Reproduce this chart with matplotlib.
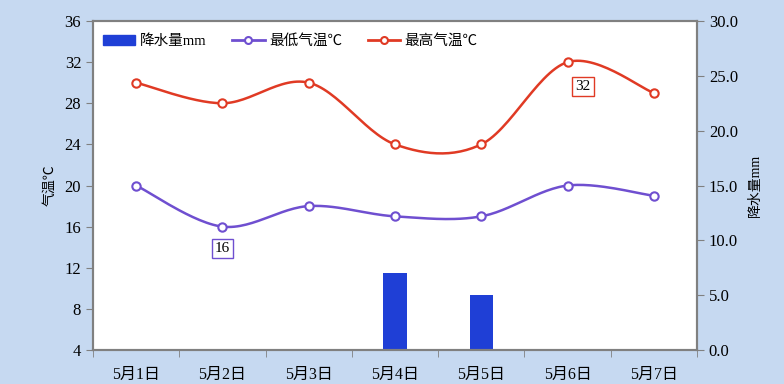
import matplotlib
matplotlib.use("Agg")
import matplotlib.pyplot as plt
import numpy as np

plt.rcParams['font.family'] = ['Liberation Serif', 'Noto Sans CJK SC', 'DejaVu Sans']

days = ['5月1日', '5月2日', '5月3日', '5月4日', '5月5日', '5月6日', '5月7日']
rain = [0, 0, 0, 7.0, 5.0, 0, 0]
t_min = [20, 16, 18, 17, 17, 20, 19]
t_max = [30, 28, 30, 24, 24, 32, 29]

bg = '#c6d9f1'
c_rain = '#1f3fd6'
c_min = '#6f4fd0'
c_max = '#e03a24'
grey = '#808080'


def smooth(x, y, n=30):
    # Catmull-Rom style bezier, like spreadsheet smoothed lines
    x = np.asarray(x, float)
    y = np.asarray(y, float)
    px = np.concatenate([[x[0]], x, [x[-1]]])
    py = np.concatenate([[y[0]], y, [y[-1]]])
    xs, ys = [], []
    t = np.linspace(0, 1, n)
    for i in range(1, len(px) - 2):
        p0 = np.array([px[i], py[i]])
        p3 = np.array([px[i + 1], py[i + 1]])
        p1 = p0 + (np.array([px[i + 1], py[i + 1]]) - np.array([px[i - 1], py[i - 1]])) / 6
        p2 = p3 - (np.array([px[i + 2], py[i + 2]]) - np.array([px[i], py[i]])) / 6
        b = ((1 - t) ** 3)[:, None] * p0 + (3 * (1 - t) ** 2 * t)[:, None] * p1 \
            + (3 * (1 - t) * t ** 2)[:, None] * p2 + (t ** 3)[:, None] * p3
        xs.append(b[:, 0])
        ys.append(b[:, 1])
    return np.concatenate(xs), np.concatenate(ys)


fig = plt.figure(figsize=(7.84, 3.84), dpi=100, facecolor=bg)
ax = fig.add_axes([93 / 784, 34 / 384, 604 / 784, 329 / 384])
ax2 = ax.twinx()

x = np.arange(len(days))

ax2.bar(x, rain, width=0.27, color=c_rain, zorder=1, label='降水量mm')

sx, sy = smooth(x, t_min)
ax.plot(sx, sy, color=c_min, lw=1.8, zorder=3)
ax.plot(x, t_min, 'o', ms=6, mfc='white', mec=c_min, mew=1.5, zorder=4)
sx, sy = smooth(x, t_max)
ax.plot(sx, sy, color=c_max, lw=1.8, zorder=3)
ax.plot(x, t_max, 'o', ms=6, mfc='white', mec=c_max, mew=1.5, zorder=4)

ax.set_zorder(ax2.get_zorder() + 1)
ax.patch.set_visible(False)
ax2.patch.set_visible(True)
ax2.patch.set_facecolor('white')

ax.set_xlim(-0.5, len(days) - 0.5)
ax.set_ylim(4, 36)
ax.set_yticks(np.arange(4, 37, 4))
ax2.set_ylim(0, 30)
ax2.set_yticks(np.arange(0, 31, 5))
ax2.set_yticklabels([f'{v:.1f}' for v in np.arange(0, 31, 5)])

ax.set_xticks(x)
ax.set_xticklabels(days, fontsize=11.5)
ax.set_xticks(np.arange(-0.5, len(days), 1), minor=True)
ax.tick_params(axis='x', which='major', length=0, pad=12)
ax.tick_params(axis='x', which='minor', length=5, color=grey, direction='out')
ax.tick_params(axis='y', length=5, color=grey, labelsize=12)
ax2.tick_params(axis='y', length=5, color=grey, labelsize=12)

for a in (ax, ax2):
    for s in a.spines.values():
        s.set_color(grey)
        s.set_linewidth(1.5)

ax.set_ylabel('气温℃', fontsize=10, labelpad=6)
ax2.set_ylabel('降水量mm', fontsize=10, labelpad=8)

ax.annotate(str(t_min[1]), (x[1], t_min[1]), xytext=(0, -15.5), textcoords='offset points',
            ha='center', va='center', fontsize=11,
            bbox=dict(boxstyle='square,pad=0.2', fc='white', ec=c_min, lw=1))
ax.annotate(str(t_max[5]), (x[5], t_max[5]), xytext=(11, -17.5), textcoords='offset points',
            ha='center', va='center', fontsize=11,
            bbox=dict(boxstyle='square,pad=0.2', fc='white', ec=c_max, lw=1))

h_bar = plt.Rectangle((0, 0), 1, 1, color=c_rain)
h_min, = ax.plot([], [], '-o', color=c_min, ms=5, mfc='white', mew=1.5, lw=2)
h_max, = ax.plot([], [], '-o', color=c_max, ms=5, mfc='white', mew=1.5, lw=2)
ax.legend([h_bar, h_min, h_max], ['降水量mm', '最低气温℃', '最高气温℃'],
          loc='upper left', bbox_to_anchor=(-0.005, 1.0), ncol=3, frameon=False,
          fontsize=10.5, handlelength=2.2, handletextpad=0.3, columnspacing=1.8)

fig.savefig('out.png', dpi=100, facecolor=bg)
